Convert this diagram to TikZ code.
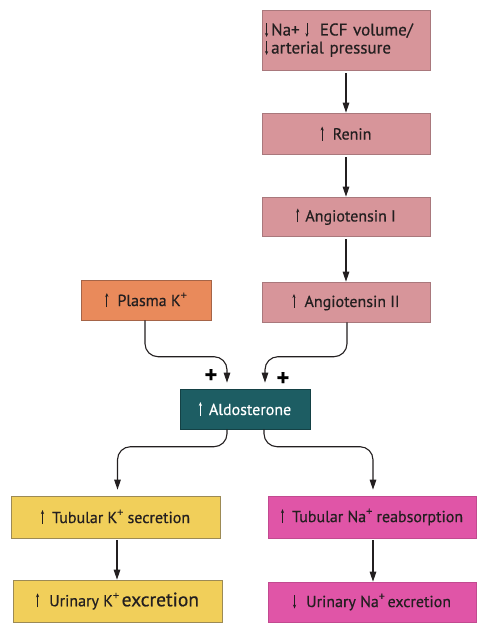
\documentclass[tikz,border=0pt]{standalone}
\usepackage{fontspec}
\setmainfont{PT Sans}[FakeBold=0.5]
\usetikzlibrary{arrows.meta}
\definecolor{pinkf}{HTML}{D7959A}
\definecolor{pinkd}{HTML}{A9787C}
\definecolor{orangef}{HTML}{E98A5B}
\definecolor{oranged}{HTML}{A56447}
\definecolor{tealf}{HTML}{1D5D63}
\definecolor{yellowf}{HTML}{F1CF5A}
\definecolor{yellowd}{HTML}{9C8A55}
\definecolor{magf}{HTML}{E055A7}
\definecolor{magd}{HTML}{C24A90}
\definecolor{txt}{HTML}{231F20}
\newcommand{\uparr}{\tikz[baseline=0pt]\draw[line width=0.7pt,-{Stealth[length=4pt,width=3.2pt]}] (0pt,-1pt)--(0pt,13pt);}
\newcommand{\dnarr}{\tikz[baseline=0pt]\draw[line width=0.7pt,-{Stealth[length=4pt,width=3.2pt]}] (0pt,12pt)--(0pt,-1.5pt);}
\newcommand{\supplus}{\raisebox{0.42em}{\fontsize{12}{12}\selectfont +}}
\tikzset{
  box/.style={rectangle, line width=0.6pt, inner sep=0pt, font=\fontsize{16}{17.5}\selectfont, text=txt},
  arr/.style={line width=1.1pt, -{Triangle[length=10pt,width=6.5pt]}, txt},
  curv/.style={arr, rounded corners=13pt},
  plus/.style={font=\bfseries\fontsize{24}{24}\selectfont, text=black, inner sep=0pt}
}
\begin{document}
\begin{tikzpicture}[x=1pt,y=-1pt]
\useasboundingbox (0,0) rectangle (483,633);
\node[box, fill=pinkf, draw=pinkd, minimum width=168pt, minimum height=60pt, text width=162pt, align=left, font=\fontsize{17}{19}\selectfont] (top) at (346,40)
  {\dnarr\hspace{3pt}Na+ \dnarr\ \ ECF volume/\\[-1pt]\dnarr\hspace{3pt}arterial pressure};
\node[box, fill=pinkf, draw=pinkd, minimum width=168pt, minimum height=41pt] (renin) at (346,133.5) {\uparr\hspace{9pt}Renin};
\node[box, fill=pinkf, draw=pinkd, minimum width=168pt, minimum height=39pt] (ang1) at (346,216.5) {\uparr\hspace{6pt}Angiotensin I};
\node[box, fill=pinkf, draw=pinkd, minimum width=168pt, minimum height=40pt] (ang2) at (346,302) {\uparr\hspace{9pt}Angiotensin II};
\node[box, fill=orangef, draw=oranged, minimum width=130pt, minimum height=40pt] (plk) at (146,300) {\uparr\hspace{9pt}Plasma K\supplus};
\node[box, fill=tealf, draw=tealf!70!black, text=white, minimum width=130pt, minimum height=40pt] (aldo) at (245,409)
  {\tikz[baseline=0pt]\draw[white,line width=0.7pt,-{Stealth[length=4pt,width=3.2pt]}] (0pt,-1pt)--(0pt,13pt);\hspace{7pt}Aldosterone};
\node[box, fill=yellowf, draw=yellowd, minimum width=209pt, minimum height=42pt] (tks) at (115.5,517) {\uparr\hspace{8pt}Tubular K\supplus\ secretion};
\node[box, fill=yellowf, draw=yellowd, minimum width=209pt, minimum height=42pt] (uke) at (117.5,601) {\uparr\hspace{10pt}Urinary K\supplus\,{\fontsize{19.5}{19.5}\selectfont excretion}};
\node[box, fill=magf, draw=magd, minimum width=208pt, minimum height=42pt] (tna) at (372,517) {\uparr\hspace{8pt}Tubular Na\supplus\ reabsorption};
\node[box, fill=magf, draw=magd, minimum width=208pt, minimum height=40pt] (una) at (372,602) {\dnarr\hspace{10pt}Urinary Na\supplus\,excretion};
% straight arrows
\draw[arr, shorten <=3pt] (top) -- (renin);
\draw[arr, shorten <=3pt] (renin) -- (ang1);
\draw[arr, shorten <=3pt] (ang1) -- (ang2);
\draw[arr, shorten <=2pt] ([xshift=1.5pt]tks.south) -- ([xshift=1.5pt]tks.south |- uke.north);
\draw[arr, shorten <=2pt] ([xshift=1pt]tna.south) -- ([xshift=1pt]tna.south |- una.north);
% curved arrows into aldosterone
\coordinate (la) at ([xshift=-18pt,yshift=6pt]aldo.north);
\coordinate (ra) at ([xshift=20pt,yshift=6pt]aldo.north);
\draw[curv] ([xshift=-1pt]plk.south) |- ([yshift=26pt]la) -- (la);
\draw[curv] ([xshift=1pt]ang2.south) |- ([yshift=26pt]ra) -- (ra);
\node[plus] (p1) at (211,376) {+};
\node[plus] (p2) at (283,379) {+};
% curved arrows out of aldosterone
\coordinate (lb) at ([xshift=2pt,yshift=6pt]tks.north);
\coordinate (rb) at ([xshift=1pt,yshift=6pt]tna.north);
\draw[curv] ([xshift=-18pt]aldo.south) |- ([yshift=43pt]lb) -- (lb);
\draw[curv] ([xshift=19pt]aldo.south) |- ([yshift=43pt]rb) -- (rb);
\end{tikzpicture}
\end{document}
